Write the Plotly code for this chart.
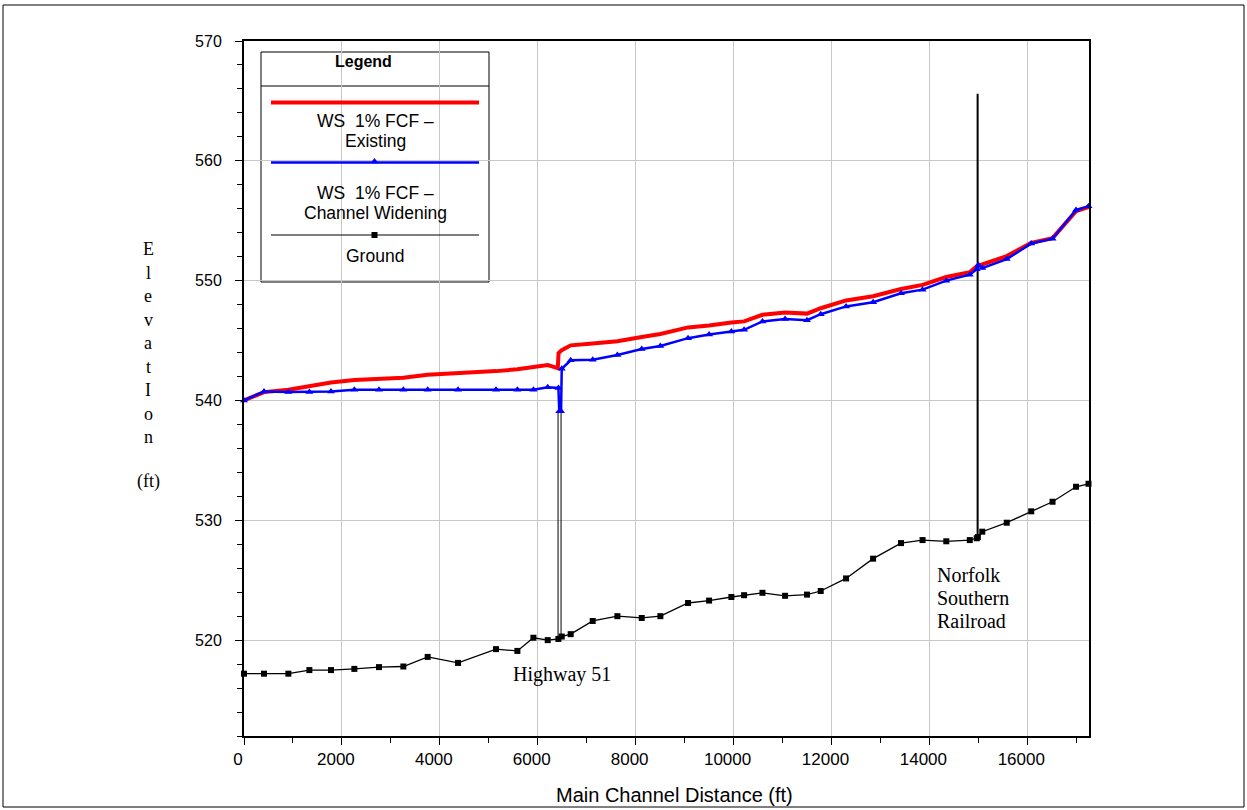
import plotly.graph_objects as go

# ---------------- data ----------------
ground_x = [0, 409, 906, 1335, 1777, 2254, 2758, 3255, 3752, 4372, 5148, 5584, 5911, 6204, 6422, 6490,
            6673, 7123, 7627, 8124, 8505, 9070, 9500, 9955, 10215, 10590, 11052, 11500, 11780, 12298,
            12850, 13420, 13860, 14345, 14825, 14967, 14990, 15080, 15580, 16080, 16515, 16995, 17250]
ground_y = [517.2, 517.2, 517.2, 517.5, 517.5, 517.6, 517.75, 517.8, 518.6, 518.1, 519.25, 519.1, 520.2,
            520.0, 520.1, 520.3, 520.5, 521.6, 522.0, 521.85, 522.0, 523.1, 523.3, 523.6, 523.75, 523.95,
            523.7, 523.8, 524.1, 525.15, 526.8, 528.1, 528.35, 528.25, 528.35, 528.5, 528.6, 529.05, 529.8,
            530.75, 531.55, 532.8, 533.05]

existing_x = [0, 409, 906, 1335, 1777, 2254, 2758, 3255, 3752, 4372, 5148, 5584, 5911, 6204, 6410, 6425,
              6490, 6673, 7123, 7627, 8124, 8505, 9070, 9500, 9955, 10215, 10590, 11052, 11500, 11780,
              12298, 12850, 13420, 13860, 14345, 14825, 14967, 15080, 15580, 16080, 16515, 16995, 17250]
existing_y = [540.0, 540.7, 540.9, 541.2, 541.5, 541.7, 541.8, 541.9, 542.15, 542.25, 542.45, 542.6, 542.8,
              542.95, 542.7, 543.95, 544.2, 544.6, 544.75, 544.95, 545.3, 545.55, 546.1, 546.25, 546.5,
              546.6, 547.15, 547.35, 547.25, 547.7, 548.35, 548.7, 549.3, 549.65, 550.3, 550.7, 551.2,
              551.35, 552.05, 553.15, 553.55, 555.8, 556.15]

widening_x = [0, 409, 906, 1335, 1777, 2254, 2758, 3255, 3752, 4372, 5148, 5584, 5911, 6204, 6422, 6440,
              6476, 6490, 6673, 7123, 7627, 8124, 8505, 9070, 9500, 9955, 10215, 10590, 11052, 11500,
              11780, 12298, 12850, 13420, 13860, 14345, 14825, 14967, 15000, 15080, 15580, 16080, 16515,
              16995, 17250]
widening_y = [540.0, 540.75, 540.7, 540.7, 540.75, 540.9, 540.9, 540.9, 540.9, 540.9, 540.9, 540.9, 540.9,
              541.1, 541.05, 539.1, 539.1, 542.65, 543.35, 543.4, 543.8, 544.3, 544.55, 545.2, 545.5,
              545.75, 545.9, 546.6, 546.8, 546.7, 547.2, 547.85, 548.2, 548.95, 549.25, 550.0, 550.5,
              550.95, 551.3, 551.05, 551.8, 553.1, 553.5, 555.9, 556.2]

hwy51_x = [6415, 6415, 6476, 6476]
hwy51_y = [520.1, 539.1, 539.1, 520.3]
nsrr_x = [14985, 14985]
nsrr_y = [528.55, 565.6]

x_range = [0, 17260]
y_range = [512, 570]

# ---------------- layout helpers ----------------
W, H = 1247, 810
L, R, T, B = 244, 1089, 41, 736


def px(x):
    return (x - L) / (R - L)


def py(y):
    return (B - y) / (B - T)


SANS = "Liberation Sans, Arial, sans-serif"
SERIF = "Liberation Serif, Times New Roman, serif"

fig = go.Figure()

fig.add_trace(go.Scatter(x=hwy51_x, y=hwy51_y, mode="lines", line=dict(color="black", width=1),
                         showlegend=False, hoverinfo="skip", cliponaxis=False))
fig.add_trace(go.Scatter(x=nsrr_x, y=nsrr_y, mode="lines", line=dict(color="black", width=2),
                         showlegend=False, hoverinfo="skip", cliponaxis=False))
fig.add_trace(go.Scatter(x=ground_x, y=ground_y, mode="lines+markers", name="Ground",
                         line=dict(color="black", width=1.3),
                         marker=dict(symbol="square", size=6, color="black"),
                         showlegend=False, cliponaxis=False))
fig.add_trace(go.Scatter(x=existing_x, y=existing_y, mode="lines", name="WS 1% FCF – Existing",
                         line=dict(color="#ff0000", width=4), showlegend=False, cliponaxis=False))
fig.add_trace(go.Scatter(x=widening_x, y=widening_y, mode="lines+markers",
                         name="WS 1% FCF – Channel Widening",
                         line=dict(color="#0000ff", width=2.5),
                         marker=dict(symbol="triangle-up", size=7, color="#0000ff"),
                         showlegend=False, cliponaxis=False))

# legend samples drawn on overlay axes in paper units
lx0, lx1, lxm = px(271), px(479), px(374.5)
fig.add_trace(go.Scatter(x=[lx0, lx1], y=[py(102.5)] * 2, mode="lines", xaxis="x2", yaxis="y2",
                         line=dict(color="#ff0000", width=4), showlegend=False, hoverinfo="skip"))
fig.add_trace(go.Scatter(x=[lx0, lx1], y=[py(162.5)] * 2, mode="lines", xaxis="x2", yaxis="y2",
                         line=dict(color="#0000ff", width=2.5), showlegend=False, hoverinfo="skip"))
fig.add_trace(go.Scatter(x=[lxm], y=[py(161.5)], mode="markers", xaxis="x2", yaxis="y2",
                         marker=dict(symbol="triangle-up", size=7, color="#0000ff"),
                         showlegend=False, hoverinfo="skip"))
fig.add_trace(go.Scatter(x=[lx0, lx1], y=[py(235)] * 2, mode="lines", xaxis="x2", yaxis="y2",
                         line=dict(color="black", width=1.2), showlegend=False, hoverinfo="skip"))
fig.add_trace(go.Scatter(x=[lxm], y=[py(235)], mode="markers", xaxis="x2", yaxis="y2",
                         marker=dict(symbol="square", size=6, color="black"),
                         showlegend=False, hoverinfo="skip"))

shapes = [
    # outer frame of the figure
    dict(type="rect", xref="paper", yref="paper", x0=px(3), x1=px(1244), y0=py(807), y1=py(5),
         line=dict(color="black", width=1), fillcolor="rgba(0,0,0,0)", layer="above"),
    # legend box
    dict(type="rect", xref="paper", yref="paper", x0=px(261), x1=px(489), y0=py(282), y1=py(52),
         line=dict(color="black", width=1), fillcolor="white", layer="between"),
    dict(type="line", xref="paper", yref="paper", x0=px(261), x1=px(489), y0=py(86), y1=py(86),
         line=dict(color="black", width=1), layer="between"),
    # white backing behind the Highway 51 label
    dict(type="rect", xref="paper", yref="paper", x0=px(505), x1=px(650), y0=py(707), y1=py(652),
         line=dict(width=0), fillcolor="white", layer="between"),
]

ann = []


def add_text(text, x, y, size, family, xanchor="center", bold=False):
    if bold:
        text = "<b>" + text + "</b>"
    ann.append(dict(text=text, x=px(x), y=py(y), xref="paper", yref="paper", showarrow=False,
                    xanchor=xanchor, yanchor="middle", font=dict(size=size, family=family, color="black")))


add_text("Legend", 363, 62, 16, SANS, bold=True)
add_text("WS\u00a0 1% FCF –", 375, 121, 17.5, SANS)
add_text("Existing", 375, 141, 17.5, SANS)
add_text("WS\u00a0 1% FCF –", 375, 193, 17.5, SANS)
add_text("Channel Widening", 375, 213, 17.5, SANS)
add_text("Ground", 375, 256, 17.5, SANS)

add_text("Highway 51", 562, 674, 20, SERIF)
add_text("Norfolk", 935, 575, 20, SERIF, xanchor="left")
add_text("Southern", 935, 598, 20, SERIF, xanchor="left")
add_text("Railroad", 935, 621, 20, SERIF, xanchor="left")

ylabel_letters = ["E", "l", "e", "v", "a", "t", "I", "o", "n"]
for i, ch in enumerate(ylabel_letters):
    add_text(ch, 148, 249 + i * 23.5, 18, SERIF)
add_text("(ft)", 148, 481, 18, SERIF)

add_text("Main Channel Distance (ft)", 674, 795, 20, SANS)

fig.update_layout(
    width=W, height=H,
    margin=dict(l=L, r=W - R, t=T, b=H - B, pad=0),
    paper_bgcolor="white", plot_bgcolor="white",
    showlegend=False,
    shapes=shapes, annotations=ann,
    xaxis=dict(range=x_range, dtick=2000, tick0=0, tickformat="d", showgrid=True, gridcolor="#c8c8c8",
               gridwidth=1, zeroline=False, showline=True, linecolor="black", linewidth=2, mirror=True,
               ticks="outside", ticklen=7, tickwidth=1, tickcolor="black",
               minor=dict(dtick=1000, ticks="outside", ticklen=5, tickcolor="black", showgrid=False),
               tickfont=dict(size=17, family=SANS, color="black"), ticklabelshift=-6),
    yaxis=dict(range=y_range, dtick=10, tick0=0, tickformat="d", showgrid=True, gridcolor="#c8c8c8",
               gridwidth=1, zeroline=False, showline=True, linecolor="black", linewidth=2, mirror=True,
               ticks="outside", ticklen=7, tickwidth=1, tickcolor="black",
               minor=dict(dtick=2, ticks="outside", ticklen=5, tickcolor="black", showgrid=False),
               tickfont=dict(size=16, family=SANS, color="black"), ticklabelstandoff=10),
    xaxis2=dict(range=[0, 1], overlaying="x", visible=False, fixedrange=True),
    yaxis2=dict(range=[0, 1], overlaying="y", visible=False, fixedrange=True),
)

fig.write_html("out.html", config={"displayModeBar": False},
               post_script="document.body.style.margin='0';document.body.style.overflow='hidden';")
